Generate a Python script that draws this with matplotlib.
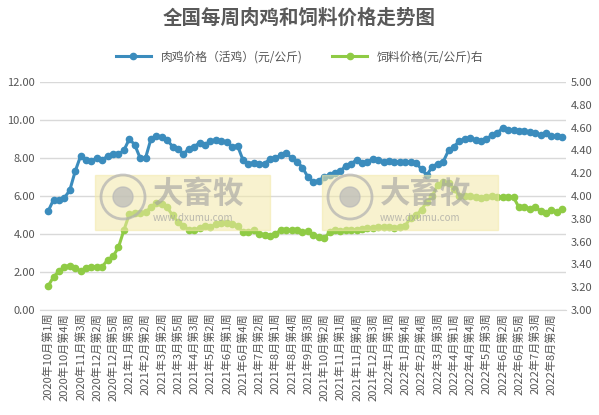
import matplotlib
matplotlib.use("Agg")
import matplotlib.pyplot as plt
from matplotlib.patches import Rectangle, Ellipse

plt.rcParams['font.family'] = ['Noto Sans CJK SC', 'DejaVu Sans']

month_weeks = [(2020,10,[1,2,3,4]),(2020,11,[1,2,3,4]),(2020,12,[1,2,3,4,5]),
    (2021,1,[1,2,3,4]),(2021,2,[1,2,3]),(2021,3,[1,2,3,4,5]),(2021,4,[1,2,3,4]),
    (2021,5,[1,2,3,4]),(2021,6,[1,2,3,4,5]),(2021,7,[1,2,3,4]),(2021,8,[1,2,3,4]),
    (2021,9,[1,2,3,4]),(2021,10,[1,2,3,4]),(2021,11,[1,2,3,4]),(2021,12,[1,2,3,4,5]),
    (2022,1,[1,2,3,4]),(2022,2,[2,3,4]),(2022,3,[1,2,3,4,5]),(2022,4,[1,2,3,4]),
    (2022,5,[1,2,3,4]),(2022,6,[1,2,3,4,5]),(2022,7,[1,2,3,4]),(2022,8,[1,2,3,4])]
weeks = [f"{y}年{m}月第{w}周" for y, m, ws in month_weeks for w in ws]

chicken = [5.2,5.8,5.8,5.9,6.3,7.3,8.1,7.9,7.85,8.0,
           7.9,8.1,8.2,8.2,8.4,9.0,8.7,8.0,8.0,9.0,
           9.15,9.1,8.95,8.6,8.5,8.2,8.5,8.6,8.8,8.7,
           8.9,8.95,8.9,8.85,8.6,8.65,7.9,7.7,7.75,7.7,
           7.7,7.95,8.0,8.15,8.25,8.0,7.8,7.5,7.0,6.75,
           6.8,7.0,7.1,7.2,7.3,7.6,7.7,7.9,7.75,7.8,
           7.95,7.9,7.8,7.85,7.8,7.8,7.8,7.8,7.75,7.4,
           7.1,7.55,7.7,7.8,8.4,8.6,8.9,9.0,9.05,8.95,
           8.9,9.0,9.2,9.3,9.6,9.5,9.45,9.4,9.4,9.35,
           9.3,9.2,9.3,9.15,9.15,9.1]
feed = [3.21,3.29,3.34,3.38,3.39,3.37,3.34,3.37,3.38,3.38,
        3.38,3.44,3.47,3.55,3.70,3.84,3.85,3.85,3.86,3.90,
        3.94,3.93,3.90,3.83,3.77,3.74,3.70,3.70,3.72,3.74,
        3.73,3.75,3.76,3.76,3.75,3.74,3.68,3.68,3.70,3.67,
        3.66,3.65,3.67,3.70,3.70,3.70,3.70,3.68,3.69,3.66,
        3.64,3.63,3.68,3.70,3.69,3.70,3.70,3.70,3.71,3.72,
        3.72,3.73,3.73,3.73,3.72,3.73,3.74,3.81,3.83,3.88,
        3.95,4.00,4.10,4.12,4.11,4.06,4.00,4.00,4.00,3.99,
        3.98,3.99,4.00,3.99,3.99,3.99,3.99,3.90,3.90,3.89,
        3.90,3.87,3.85,3.88,3.86,3.89]

n = len(chicken)
x = list(range(n))

fig = plt.figure(figsize=(5.99, 4.15), dpi=100)
ax = fig.add_axes([40/599, 1-310/415, 526/599, 228/415])
ax2 = ax.twinx()

blue = '#3b8cbd'
green = '#8fcb45'
ax.plot(x, chicken, color=blue, lw=2.2, marker='o', ms=4.5, label='肉鸡价格（活鸡）(元/公斤)', zorder=3)
ax2.plot(x, feed, color=green, lw=2.2, marker='o', ms=4.5, label='饲料价格(元/公斤)右', zorder=3)

ax.set_ylim(0, 12)
ax.set_yticks([0,2,4,6,8,10,12])
ax.set_yticklabels([f"{v:.2f}" for v in [0,2,4,6,8,10,12]])
ax2.set_ylim(3, 5)
ax2.set_yticks([3.0,3.2,3.4,3.6,3.8,4.0,4.2,4.4,4.6,4.8,5.0])
ax2.set_yticklabels([f"{v:.2f}" for v in [3.0,3.2,3.4,3.6,3.8,4.0,4.2,4.4,4.6,4.8,5.0]])
ax.set_xlim(-1.5, n - 0.3)
ticks = list(range(0, n, 3))
ax.set_xticks(ticks)
ax.set_xticklabels([weeks[i] for i in ticks], rotation=90, fontsize=7.5, color='#555555')
ax.grid(axis='y', color='#d9d9d9', lw=1)
ax.set_axisbelow(True)
for a in (ax, ax2):
    for s in a.spines.values():
        s.set_visible(False)
    a.tick_params(length=0, labelsize=8, colors='#555555')
ax.spines['bottom'].set_visible(True)
ax.spines['bottom'].set_color('#d9d9d9')
ax.tick_params(axis='x', pad=2)

# watermarks
for (x0, x1) in [(95, 270), (322, 498)]:
    fig.patches.append(Rectangle((x0/599, 1-230/415), (x1-x0)/599, 55/415,
                                 transform=fig.transFigure, color='#f3e9a8', alpha=0.55, zorder=1))
    fig.text((x0+58)/599, 1-194/415, '大畜牧', fontsize=22, fontweight='bold', color='#a0a0a0', alpha=0.6, va='center')
    fig.text((x0+58)/599, 1-218/415, 'www.dxumu.com', fontsize=7, color='#a0a0a0', alpha=0.7, va='center')
    cx, cy = (x0+28)/599, 1-197/415
    fig.patches.append(Ellipse((cx, cy), 44/599, 44/415, transform=fig.transFigure,
                               fill=False, ec='#b0b0b0', lw=2, alpha=0.7))
    fig.patches.append(Ellipse((cx, cy), 20/599, 20/415, transform=fig.transFigure,
                               color='#b8b8b8', alpha=0.7))

fig.text(0.5, 1-18/415, '全国每周肉鸡和饲料价格走势图', ha='center', va='center', fontsize=14,
         fontweight='bold', color='#595959')
h1, l1 = ax.get_legend_handles_labels()
h2, l2 = ax2.get_legend_handles_labels()
fig.legend(h1+h2, l1+l2, loc='center', bbox_to_anchor=(0.5, 1-57/415), ncol=2, frameon=False,
           fontsize=8.5, labelcolor='#555555', columnspacing=2.5, handlelength=3)

fig.savefig('out.png', dpi=100)
